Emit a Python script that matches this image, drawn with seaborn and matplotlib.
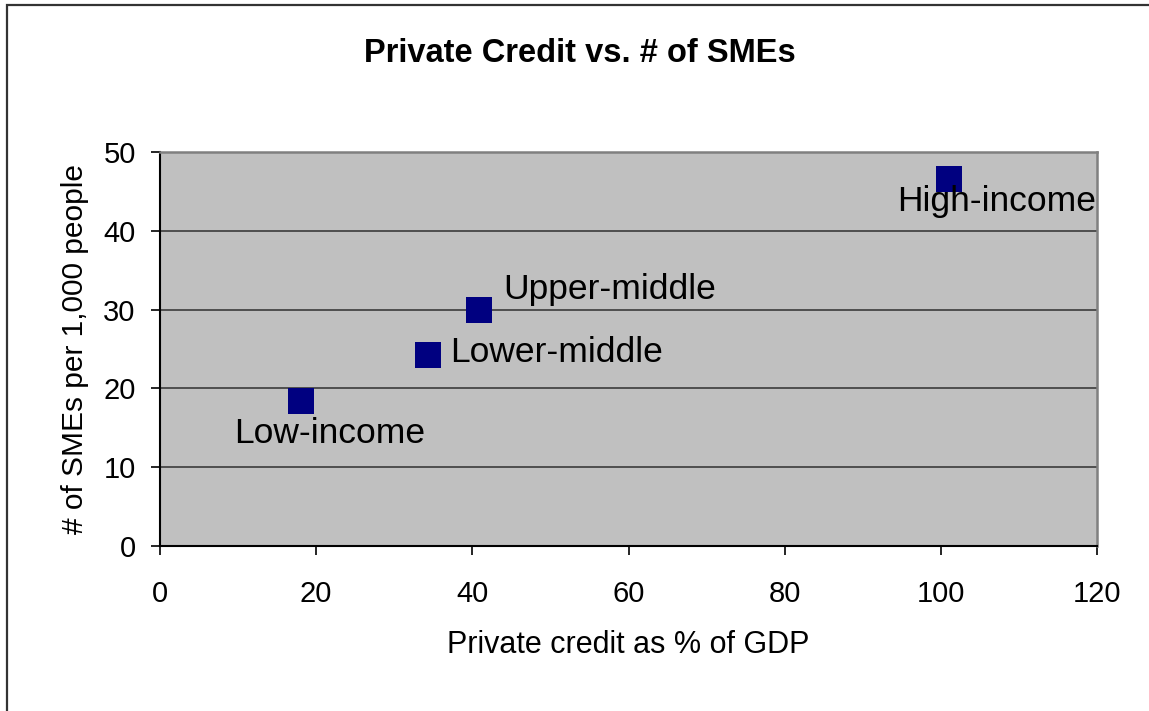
import matplotlib
matplotlib.use("Agg")
import matplotlib.pyplot as plt
import matplotlib.patches as mpatches
import seaborn as sns
import pandas as pd

# Income groups: private credit (% of GDP) against SMEs per 1,000 people
groups = ["Low-income", "Lower-middle", "Upper-middle", "High-income"]
private_credit = [18.0, 34.3, 40.8, 101.1]
smes_per_1000 = [18.4, 24.2, 30.0, 46.6]

x_ticks = [0, 20, 40, 60, 80, 100, 120]
y_ticks = [0, 10, 20, 30, 40, 50]

# label offsets in pixels (dx, dy) and horizontal alignment
label_offsets = {
    "Low-income": (29, -32, "center"),
    "Lower-middle": (22, 3, "left"),
    "Upper-middle": (25, 20, "left"),
    "High-income": (47, -23, "center"),
}

df = pd.DataFrame({"group": groups, "credit": private_credit, "smes": smes_per_1000})

sns.set_theme(style="white")
plt.rcParams["font.family"] = ["Liberation Sans", "DejaVu Sans"]
plt.rcParams["text.color"] = "black"
plt.rcParams["axes.labelcolor"] = "black"

fig = plt.figure(figsize=(11.49, 7.11), dpi=100)
fig.patch.set_facecolor("white")
ax = fig.add_axes([160 / 1149, 1 - 546 / 711, (1097 - 160) / 1149, (546 - 152) / 711])
ax.set_facecolor("#C0C0C0")

sns.scatterplot(data=df, x="credit", y="smes", marker="s", s=350,
                color="#000080", edgecolor="none", ax=ax, zorder=3, legend=False)

for g, xv, yv in zip(groups, private_credit, smes_per_1000):
    dx, dy, ha = label_offsets[g]
    ax.annotate(g, (xv, yv), xytext=(dx, dy), textcoords="offset pixels",
                ha=ha, va="center", fontsize=25.5, color="black", zorder=4)

ax.set_xlim(0, 120)
ax.set_ylim(0, 50)
ax.set_xticks(x_ticks)
ax.set_yticks(y_ticks)
ax.set_xticklabels([str(t) for t in x_ticks])
ax.set_yticklabels([str(t) for t in y_ticks])
ax.tick_params(axis="both", labelsize=21, colors="black", direction="out",
               length=6.5, width=1.2)
ax.tick_params(axis="x", pad=18)
ax.tick_params(axis="y", pad=11)
ax.tick_params(axis="both", bottom=True, left=True)

ax.yaxis.grid(True, color="#303030", linewidth=1.1)
ax.xaxis.grid(False)
ax.set_axisbelow(True)

for side in ["left", "bottom"]:
    ax.spines[side].set_color("black")
    ax.spines[side].set_linewidth(1.5)
for side in ["top", "right"]:
    ax.spines[side].set_color("#808080")
    ax.spines[side].set_linewidth(1.8)

ax.set_xlabel("Private credit as % of GDP", fontsize=22, labelpad=16)
ax.set_ylabel("# of SMEs per 1,000 people", fontsize=21.5, labelpad=10)

fig.text(580 / 1149, 1 - 54 / 711, "Private Credit vs. # of SMEs",
         ha="center", va="center", fontsize=23.5, fontweight="bold")

# outer chart frame (open on the right and bottom)
frame = mpatches.Rectangle((6.5 / 1149, -0.05), 1.2, 1 - 5 / 711 + 0.05,
                           transform=fig.transFigure, fill=False,
                           edgecolor="#333333", linewidth=1.6, clip_on=False)
fig.patches.append(frame)

fig.savefig("out.png", dpi=100)
